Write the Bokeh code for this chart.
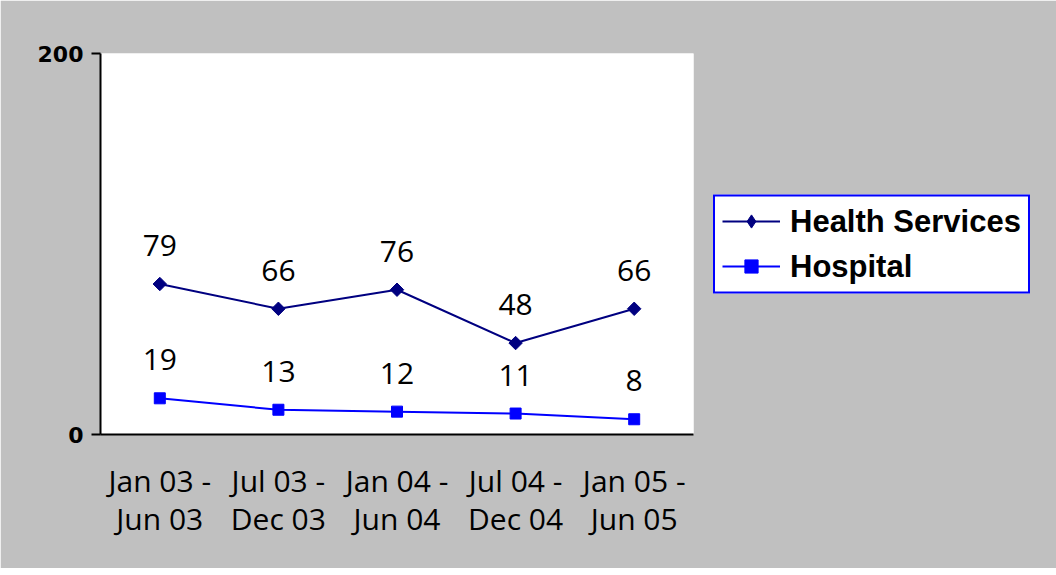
import math
from bokeh.plotting import figure
from bokeh.models import ColumnDataSource, FixedTicker, Range1d, LabelSet, Legend, LegendItem
from bokeh.core.properties import value
from bokeh.embed import file_html
from bokeh.resources import INLINE

periods = ["Jan 03 -\nJun 03", "Jul 03 -\nDec 03", "Jan 04 -\nJun 04", "Jul 04 -\nDec 04", "Jan 05 -\nJun 05"]
health_services = [79, 66, 76, 48, 66]
hospital = [19, 13, 12, 11, 8]
y_ticks = [0, 200]

xs = list(range(len(periods)))

p = figure(frame_width=593, frame_height=381, output_backend="svg", toolbar_location=None,
           x_range=Range1d(-0.5, len(periods) - 0.5), y_range=Range1d(0, 200),
           min_border_left=100, min_border_top=53, min_border_right=0, min_border_bottom=134)
p.border_fill_color = "#c0c0c0"
p.background_fill_color = "white"
p.outline_line_color = None
p.xgrid.visible = False
p.ygrid.visible = False

src_hs = ColumnDataSource(dict(x=xs, y=health_services, t=[str(v) for v in health_services]))
src_h = ColumnDataSource(dict(x=xs, y=hospital, t=[str(v) for v in hospital]))

l1 = p.line("x", "y", source=src_hs, line_color="#000080", line_width=2)
m1 = p.scatter("x", "y", source=src_hs, marker="square", size=9.5, angle=math.pi / 4,
               fill_color="#000080", line_color="#000080")
l2 = p.line("x", "y", source=src_h, line_color="#0000ff", line_width=2)
m2 = p.scatter("x", "y", source=src_h, marker="square", size=11, fill_color="#0000ff", line_color="#0000ff")
# legend-only diamond glyph (legend markers are drawn unrotated); its point lies outside the y range
d1 = p.scatter(x=[0], y=[-1000], marker="diamond", fill_color="#000080", line_color="#000080")

for src in (src_hs, src_h):
    p.add_layout(LabelSet(x="x", y="y", text="t", source=src, y_offset=28, text_align="center",
                          text_baseline="alphabetic", text_font=value("Open Sans"),
                          text_font_size="30px", text_color="black"))

# axes
p.yaxis.ticker = FixedTicker(ticks=y_ticks)
p.yaxis.minor_tick_line_color = None
p.yaxis.major_tick_out = 9
p.yaxis.major_tick_in = 0
p.yaxis.major_label_standoff = 8
p.yaxis.major_label_text_font = "DejaVu Sans"
p.yaxis.major_label_text_font_style = "bold"
p.yaxis.major_label_text_font_size = "22px"
p.yaxis.major_label_text_color = "black"
p.yaxis.axis_line_color = "black"
p.yaxis.axis_line_width = 2
p.yaxis.major_tick_line_width = 2

p.xaxis.ticker = FixedTicker(ticks=xs)
p.xaxis.major_label_overrides = {i: s for i, s in enumerate(periods)}
p.xaxis.minor_tick_line_color = None
p.xaxis.major_tick_out = 0
p.xaxis.major_tick_in = 0
p.xaxis.major_label_standoff = 25
p.xaxis.major_label_text_font = "Open Sans"
p.xaxis.major_label_text_font_size = "30px"
p.xaxis.major_label_text_line_height = 0.93
p.xaxis.major_label_text_color = "black"
p.xaxis.axis_line_color = "black"
p.xaxis.axis_line_width = 2

legend = Legend(items=[LegendItem(label="Health Services", renderers=[l1, d1]),
                       LegendItem(label="Hospital", renderers=[l2, m2])],
                location="center_left", margin=20, padding=7, spacing=9,
                glyph_width=58, glyph_height=33, label_height=30, label_standoff=10,
                label_text_font="Liberation Sans", label_text_font_style="bold",
                label_text_font_size="31px", label_text_color="black",
                border_line_color="#0000ff", border_line_width=2, border_line_alpha=1,
                background_fill_color="white", background_fill_alpha=1)
p.add_layout(legend, "right")

open("out.html", "w").write(file_html(p, INLINE))
